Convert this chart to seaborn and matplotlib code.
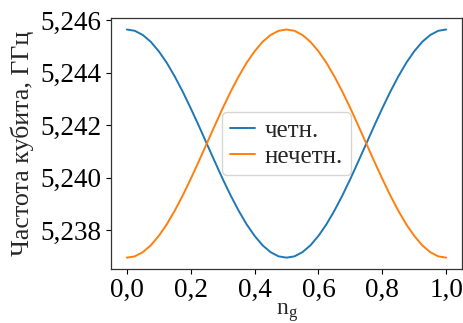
import numpy as np
import pandas as pd
import matplotlib
matplotlib.use("Agg")
import matplotlib.pyplot as plt
from matplotlib.ticker import FuncFormatter
import seaborn as sns

# Gate charge n_g, step 0.025
ng = [0.000, 0.025, 0.050, 0.075, 0.100, 0.125, 0.150, 0.175, 0.200, 0.225,
      0.250, 0.275, 0.300, 0.325, 0.350, 0.375, 0.400, 0.425, 0.450, 0.475,
      0.500, 0.525, 0.550, 0.575, 0.600, 0.625, 0.650, 0.675, 0.700, 0.725,
      0.750, 0.775, 0.800, 0.825, 0.850, 0.875, 0.900, 0.925, 0.950, 0.975,
      1.000]

# Qubit frequency, GHz — even parity branch
f_even = [5.24565, 5.24560, 5.24544, 5.24518, 5.24482, 5.24438, 5.24386, 5.24328,
          5.24265, 5.24199, 5.24131, 5.24063, 5.23996, 5.23933, 5.23875, 5.23823,
          5.23779, 5.23743, 5.23717, 5.23701, 5.23696, 5.23701, 5.23717, 5.23743,
          5.23779, 5.23823, 5.23875, 5.23933, 5.23996, 5.24063, 5.24131, 5.24199,
          5.24265, 5.24328, 5.24386, 5.24438, 5.24482, 5.24518, 5.24544, 5.24560,
          5.24565]

# Qubit frequency, GHz — odd parity branch
f_odd = [5.23696, 5.23701, 5.23717, 5.23743, 5.23779, 5.23823, 5.23875, 5.23933,
         5.23996, 5.24062, 5.24130, 5.24198, 5.24265, 5.24328, 5.24386, 5.24438,
         5.24482, 5.24518, 5.24544, 5.24560, 5.24565, 5.24560, 5.24544, 5.24518,
         5.24482, 5.24438, 5.24386, 5.24328, 5.24265, 5.24198, 5.24130, 5.24062,
         5.23996, 5.23933, 5.23875, 5.23823, 5.23779, 5.23743, 5.23717, 5.23701,
         5.23696]

labels = ["четн.", "нечетн."]
xticks = [0.0, 0.2, 0.4, 0.6, 0.8, 1.0]
yticks = [5.238, 5.240, 5.242, 5.244, 5.246]

df = pd.DataFrame({
    "ng": ng + ng,
    "f": f_even + f_odd,
    "branch": [labels[0]] * len(ng) + [labels[1]] * len(ng),
})

sns.set_theme(style="ticks")
plt.rcParams["font.family"] = ["Liberation Serif", "DejaVu Serif"]
plt.rcParams["mathtext.fontset"] = "custom"
plt.rcParams["mathtext.rm"] = "Liberation Serif"
plt.rcParams["mathtext.it"] = "Liberation Serif"

fig = plt.figure(figsize=(4.64, 3.23), dpi=100)
ax = fig.add_axes([0.239, 0.167, 0.757, 0.777])

sns.lineplot(data=df, x="ng", y="f", hue="branch",
             palette=["#1f77b4", "#ff7f0e"], linewidth=1.4, ax=ax)

ax.set_xticks(xticks)
ax.set_yticks(yticks)
ax.xaxis.set_major_formatter(FuncFormatter(lambda v, p: f"{v:.1f}".replace(".", ",")))
ax.yaxis.set_major_formatter(FuncFormatter(lambda v, p: f"{v:.3f}".replace(".", ",")))
ax.tick_params(labelsize=19.5, colors="black", width=0.8, length=3.5, pad=3)
for s in ax.spines.values():
    s.set_color("#333333")
    s.set_linewidth(0.9)

ax.set_xlabel(r"$\mathrm{n_g}$", fontsize=17, labelpad=-1)
ax.set_ylabel("Частота кубита, ГГц", fontsize=18.7, labelpad=5)

leg = ax.legend(loc="center", fontsize=18, handlelength=1.0, handletextpad=0.4,
                borderpad=0.3, labelspacing=0.15, borderaxespad=0.3, frameon=True)
leg.get_frame().set_edgecolor("#cccccc")

fig.savefig("out.png", dpi=100)
